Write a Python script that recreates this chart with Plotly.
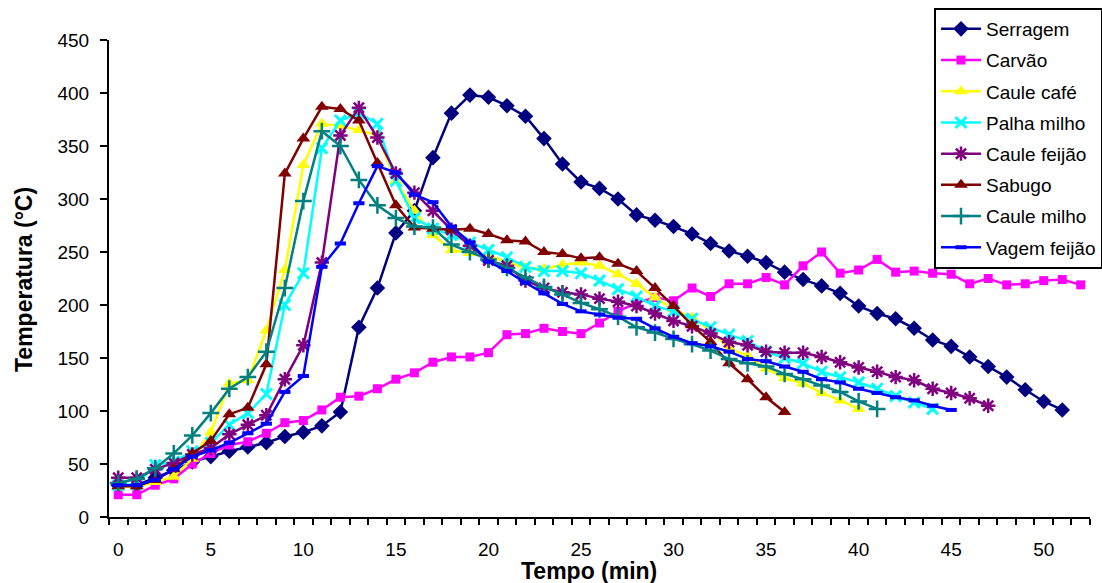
import plotly.graph_objects as go

minutes_label = "Tempo (min)"
temp_label = "Temperatura (°C)"

serragem = [30, 30, 37, 44, 52, 57, 62, 66, 70, 76, 80, 86, 99, 179, 216, 268, 289, 339, 381, 398,
            396, 388, 378, 357, 333, 316, 310, 300, 285, 280, 274, 267, 258, 251, 246, 240, 231, 224,
            218, 211, 199, 192, 187, 178, 167, 161, 151, 142, 132, 120, 109, 101]
carvao = [21, 21, 30, 36, 50, 60, 68, 71, 79, 89, 91, 101, 113, 114, 121, 130, 136, 146, 151, 151,
          155, 172, 173, 178, 175, 173, 183, 194, 202, 207, 204, 216, 208, 220, 220, 226, 219, 237,
          250, 230, 233, 243, 231, 232, 230, 229, 220, 225, 219, 220, 223, 224, 219]
caule_cafe = [28, 29, 33, 38, 55, 80, 126, 129, 176, 233, 332, 371, 369, 365, 360, 317, 289, 266, 252,
              249, 246, 241, 235, 234, 238, 240, 237, 229, 220, 207, 196, 188, 176, 159, 152, 140, 131,
              126, 117, 110, 102]
palha_milho = [30, 31, 49, 52, 62, 70, 87, 98, 116, 200, 230, 348, 374, 381, 371, 317, 282, 272, 266,
               259, 252, 245, 236, 232, 232, 230, 223, 215, 208, 199, 194, 187, 179, 172, 166, 156, 150,
               145, 137, 132, 127, 121, 114, 108, 102]
caule_feijao = [37, 37, 45, 51, 59, 65, 78, 87, 96, 130, 162, 240, 360, 386, 358, 324, 306, 289, 271,
                256, 242, 237, 223, 216, 212, 210, 206, 203, 199, 192, 185, 180, 173, 165, 162, 156, 155,
                155, 151, 146, 141, 137, 132, 129, 121, 117, 112, 105]
sabugo = [29, 29, 35, 45, 60, 72, 97, 103, 144, 324, 357, 387, 385, 374, 334, 294, 273, 272, 271, 272,
          267, 261, 260, 250, 248, 244, 245, 239, 232, 216, 199, 181, 165, 145, 130, 113, 99]
caule_milho = [32, 36, 46, 60, 77, 98, 121, 132, 156, 216, 298, 364, 350, 318, 294, 282, 274, 273, 257,
               250, 243, 235, 226, 217, 210, 202, 196, 189, 179, 174, 168, 163, 157, 149, 145, 142, 135,
               130, 124, 118, 109, 102]
vagem_feijao = [30, 30, 35, 45, 57, 63, 70, 79, 88, 118, 133, 236, 258, 296, 331, 325, 304, 297, 274,
                259, 241, 232, 221, 211, 201, 194, 191, 188, 187, 178, 170, 164, 161, 156, 149, 147, 142,
                137, 130, 127, 121, 117, 113, 110, 105, 101]

series_names = ["Serragem", "Carvão", "Caule café", "Palha milho", "Caule feijão",
                "Sabugo", "Caule milho", "Vagem feijão"]
series_values = [serragem, carvao, caule_cafe, palha_milho, caule_feijao, sabugo, caule_milho, vagem_feijao]

x_tick_labels = [0, 5, 10, 15, 20, 25, 30, 35, 40, 45, 50]
y_tick_labels = [0, 50, 100, 150, 200, 250, 300, 350, 400, 450]
n_categories = 53

styles = [
    dict(color="#000080", symbol="diamond", size=12, lw=0),
    dict(color="#FF00FF", symbol="square", size=9, lw=0),
    dict(color="#FFFF00", symbol="triangle-up", size=12, lw=0),
    dict(color="#00FFFF", symbol="x-thin-open", size=11, lw=3),
    dict(color="#800080", symbol="asterisk-open", size=12, lw=2.5),
    dict(color="#800000", symbol="triangle-up", size=12, lw=0),
    dict(color="#008080", symbol="cross-thin-open", size=12, lw=2.5),
    dict(color="#0000FF", symbol="line-ew-open", size=8, lw=4),
]

FONT = "Liberation Sans, Arial, sans-serif"

fig = go.Figure()
for i, (name, vals, st) in enumerate(zip(series_names, series_values, styles)):
    fig.add_trace(go.Scatter(
        x=list(range(len(vals))), y=vals, name=name, mode="lines+markers",
        legendgroup="g%d" % i,
        line=dict(color=st["color"], width=2.5),
        marker=dict(symbol=st["symbol"], size=st["size"], color=st["color"],
                    line=dict(color=st["color"], width=st["lw"])),
    ))

fig.update_layout(
    width=1102, height=583,
    margin=dict(l=109, r=12, t=40, b=66, autoexpand=False),
    paper_bgcolor="white", plot_bgcolor="white",
    font=dict(family=FONT, size=19, color="black"),
    showlegend=True,
    legend=dict(
        x=(934 - 109) / 981, y=(517 - 8) / 477, xanchor="left", yanchor="top",
        bordercolor="black", borderwidth=2, bgcolor="white",
        font=dict(family=FONT, size=19, color="black"),
        tracegroupgap=3.5, itemwidth=40,
    ),
    xaxis=dict(
        range=[-0.5, n_categories - 0.5], showgrid=False, zeroline=False,
        showline=True, linecolor="black", linewidth=2,
        tickmode="array", tickvals=x_tick_labels, ticktext=[str(v) for v in x_tick_labels],
        ticks="", ticklabelstandoff=14,
        tickfont=dict(family=FONT, size=19, color="black"),
        minor=dict(tickvals=[k - 0.5 for k in range(n_categories + 1)], ticks="outside",
                   ticklen=6, tickwidth=2, tickcolor="black", showgrid=False),
    ),
    yaxis=dict(
        range=[0, 450], showgrid=False, zeroline=False,
        showline=True, linecolor="black", linewidth=2,
        tickmode="array", tickvals=y_tick_labels,
        ticks="outside", ticklen=7, tickwidth=2, tickcolor="black",
        ticklabelstandoff=7,
        tickfont=dict(family=FONT, size=19, color="black"),
    ),
    annotations=[
        dict(text="<b>" + minutes_label + "</b>", xref="paper", yref="paper",
             x=(589 - 109) / 981, y=-(571 - 517) / 477, xanchor="center", yanchor="middle",
             showarrow=False, font=dict(family=FONT, size=23, color="black")),
        dict(text="<b>" + temp_label + "</b>", xref="paper", yref="paper",
             x=-(109 - 24) / 981, y=(517 - 280) / 477, xanchor="center", yanchor="middle",
             textangle=-90, showarrow=False, font=dict(family=FONT, size=23, color="black")),
    ],
)

fig.write_html("out.html", config={"displayModeBar": False},
               post_script="document.body.style.margin='0';document.body.style.overflow='hidden';")
